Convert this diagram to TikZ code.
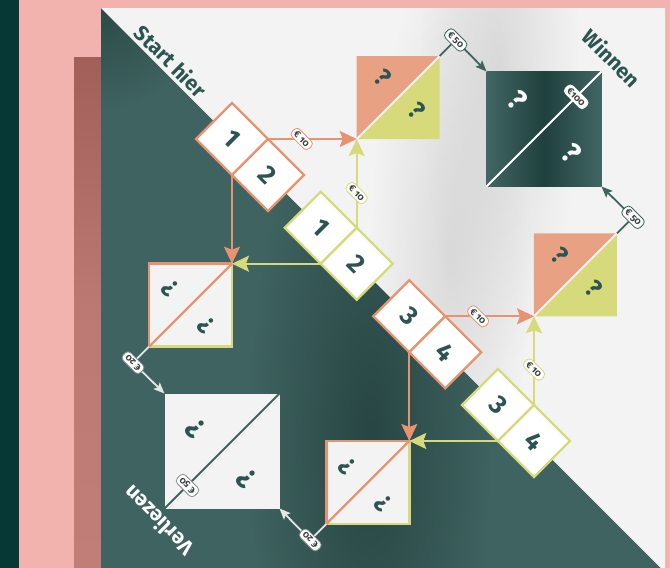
\documentclass[tikz,border=0pt]{standalone}
\usepackage{fontspec}
\setmainfont{Fira Sans}
\newfontfamily\lblfont[Numbers=OldStyle]{Fira Sans}
\usetikzlibrary{calc,arrows.meta,fadings}
\definecolor{stripdark}{HTML}{063836}
\definecolor{pinkbg}{HTML}{F2B2AD}
\definecolor{pinkdark}{HTML}{C17E79}
\definecolor{pinkshade}{HTML}{A25E59}
\definecolor{paperlight}{HTML}{F3F3F3}
\definecolor{paperdark}{HTML}{3F6360}
\definecolor{korange}{HTML}{E9A183}
\definecolor{korangeline}{HTML}{E8936F}
\definecolor{kyellow}{HTML}{D7DA7B}
\definecolor{txtdark}{HTML}{2C5451}
\definecolor{winmid}{HTML}{1E413E}
\definecolor{winedge}{HTML}{426663}
\definecolor{lbltext}{HTML}{3A3F3F}
\definecolor{lblgray}{HTML}{8A8F8F}
\definecolor{arrwhite}{HTML}{E4E6E6}
\definecolor{foldshade}{HTML}{142E2C}
\definecolor{glossgray}{HTML}{BDBDBD}
\tikzfading[name=softspot, inner color=transparent!0, outer color=transparent!100]
\tikzset{
  digit/.style={draw, fill=white, minimum size=50.9pt, inner sep=0pt, outer sep=0pt,
    rotate=-45, line width=2.3pt, text=txtdark, font=\bfseries\fontsize{26}{26}\selectfont},
  odig/.style={digit, draw=korangeline},
  ydig/.style={digit, draw=kyellow},
  split/.style={minimum size=83pt, inner sep=0pt, outer sep=0pt},
  bigsq/.style={minimum size=115pt, inner sep=0pt, outer sep=0pt},
  lbl/.style={draw, fill=white, rounded corners=4pt, line width=0.8pt,
    inner xsep=3pt, inner ysep=2pt, text=lbltext,
    font=\lblfont\bfseries\fontsize{9.5}{10}\selectfont},
  qm/.style={text=txtdark, font=\bfseries\fontsize{25}{25}\selectfont},
  bigqm/.style={font=\bfseries\fontsize{29}{29}\selectfont},
  title/.style={text=txtdark, font=\bfseries\fontsize{21}{21}\selectfont},
  oarr/.style={draw=korangeline, line width=2pt, -{Stealth[length=17pt,width=16pt,inset=3pt]}},
  yarr/.style={draw=kyellow, line width=2pt, -{Stealth[length=17pt,width=16pt,inset=3pt]}},
  darr/.style={draw=paperdark, line width=1.8pt, -{Stealth[length=11pt,width=9pt,inset=2pt]}},
  warr/.style={draw=arrwhite, line width=1.8pt, -{Stealth[length=11pt,width=9pt,inset=2pt]}},
  spot/.style={path fading=softspot},
}
\begin{document}
\begin{tikzpicture}[x=1pt,y=-1pt]
\useasboundingbox (0,0) rectangle (670,568);
% background
\fill[pinkbg] (0,0) rectangle (670,568);
\fill[stripdark] (0,0) rectangle (19,568);
\shade[top color=pinkshade, bottom color=pinkdark, middle color=pinkdark!85!pinkshade] (74,57) rectangle (101,568);
% poster
\fill[paperdark] (101,8) -- (101,568) -- (661,568) -- cycle;
\fill[paperlight] (101,8) -- (665,8) -- (665,568) -- (661,568) -- cycle;
% soft fold shading on the dark half
\begin{scope}
  \clip (101,8) -- (101,568) -- (661,568) -- cycle;
  \fill[foldshade, opacity=0.55, spot] (250,60) rectangle (490,820);
  \fill[foldshade, opacity=0.45, spot] (1,-92) rectangle (201,108);
\end{scope}
% gloss on the light half
\begin{scope}
  \clip (101,8) -- (665,8) -- (665,568) -- (661,568) -- cycle;
  \fill[glossgray, opacity=0.45, spot] (420,-240) rectangle (580,360);
  \fill[glossgray, opacity=0.45, spot] (370,-40) rectangle (530,560);
\end{scope}

% diamond pairs
\node[odig] (O1) at (232,139) {1};
\node[odig] (O2) at (268,175) {2};
\node[ydig] (Y1) at (320.7,227.7) {1};
\node[ydig] (Y2) at (356.7,263.7) {2};
\node[odig] (O3) at (409.3,316.3) {3};
\node[odig] (O4) at (445.3,352.3) {4};
\node[ydig] (Y3) at (498,405) {3};
\node[ydig] (Y4) at (534,441) {4};

% squares
\node[split, anchor=south west] (A) at (O1.north east -| Y1.north east) {};
\node[split, anchor=north east] (B) at (O1.south east |- Y1.south east) {};
\node[split, anchor=south west] (C) at (O3.north east -| Y3.north east) {};
\node[split, anchor=north east] (D) at (O3.south east |- Y3.south east) {};
\node[bigsq] (W) at (544,129) {};
\node[bigsq] (V) at (222,451) {};

% winning square
\shade[left color=winedge, right color=winedge, middle color=winmid] (W.south west) rectangle (W.north east);
\draw[white, line width=2pt] (W.south west) -- (W.north east);
% losing square
\fill[paperlight] (V.south west) rectangle (V.north east);
\draw[paperdark, line width=2pt] (V.south west) -- (V.north east);

% split orange / yellow squares
\foreach \s in {A,C}{
  \fill[korange] (\s.north west) -- (\s.north east) -- (\s.south west) -- cycle;
  \fill[kyellow] (\s.north east) -- (\s.south east) -- (\s.south west) -- cycle;
  \draw[paperlight, line width=2pt] (\s.south west) -- (\s.north east);
}
% white split squares
\foreach \s in {B,D}{
  \fill[paperlight] (\s.south west) rectangle (\s.north east);
  \draw[kyellow, line width=2.5pt, line cap=rect] (\s.north east) -- (\s.south east) -- (\s.south west);
  \draw[korangeline, line width=2.5pt, line cap=rect] (\s.south west) -- (\s.north west) -- (\s.north east);
  \draw[korangeline, line width=2.3pt] (\s.south west) -- (\s.north east);
}

% question marks
\foreach \s in {A,C}{
  \node[qm, rotate=-45] (\s q1) at ($(\s.north west)+(26,22)$) {?};
  \node[qm, rotate=-45] (\s q2) at ($(\s.north west)+(60,55)$) {?};
}
\foreach \s in {B,D}{
  \node[qm, rotate=135] (\s q1) at ($(\s.north west)+(21,25)$) {?};
  \node[qm, rotate=135] (\s q2) at ($(\s.north west)+(57,62)$) {?};
}
\node[qm, bigqm, text=white, rotate=-45] (Wq1) at ($(W.north west)+(31,29)$) {?};
\node[qm, bigqm, text=white, rotate=-45] (Wq2) at ($(W.north west)+(85,82)$) {?};
\node[qm, bigqm, rotate=135] (Vq1) at ($(V.north west)+(31,35)$) {?};
\node[qm, bigqm, rotate=135] (Vq2) at ($(V.north west)+(82,85)$) {?};

% connectors from the pairs
\draw[oarr] (O1.north east) -- node[pos=0.38, lbl, draw=korangeline, rotate=-45] (l1) {€ 10} (A.south west);
\draw[oarr] (O1.south east) -- (B.north east);
\draw[yarr] (Y1.north east) -- node[pos=0.39, lbl, draw=kyellow, rotate=-45] (l2) {€ 10} (A.south west);
\draw[yarr] (Y1.south east) -- (B.north east);
\draw[oarr] (O3.north east) -- node[pos=0.37, lbl, draw=korangeline, rotate=-45] (l3) {€ 10} (C.south west);
\draw[oarr] (O3.south east) -- (D.north east);
\draw[yarr] (Y3.north east) -- node[pos=0.4, lbl, draw=kyellow, rotate=-45] (l4) {€ 10} (C.south west);
\draw[yarr] (Y3.south east) -- (D.north east);

% connectors to winning square
\coordinate (bA) at ($(A.north east)+(16,-16)$);
\coordinate (bC) at ($(C.north east)+(16,-16)$);
\draw[darr] (A.north east) -- (bA) -- (W.north west);
\draw[darr] (C.north east) -- (bC) -- (W.south east);
\node[lbl, draw=paperdark, rotate=-45] (l5) at (bA) {€ 50};
\node[lbl, draw=paperdark, rotate=-45] (l6) at (bC) {€ 50};
\node[lbl, draw=white, rotate=-45] (l7) at ($(W.south west)!0.78!(W.north east)$) {€100};

% connectors to losing square
\coordinate (bB) at ($(B.south west)+(-16,16)$);
\coordinate (bD) at ($(D.south west)+(-16,16)$);
\draw[warr] (B.south west) -- (bB) -- (V.north west);
\draw[warr] (D.south west) -- (bD) -- (V.south east);
\node[lbl, draw=lblgray, rotate=135] (l8) at (bB) {€ 20};
\node[lbl, draw=lblgray, rotate=135] (l9) at (bD) {€ 20};
\node[lbl, draw=lblgray, rotate=135] (l10) at ($(V.south west)!0.2!(V.north east)$) {€ 50};

% titles
\node[title, rotate=-45] (start) at (171,61) {Start hier};
\node[title, rotate=-45] (win) at (612,58) {Winnen};
\node[title, text=white, rotate=135] (lose) at (158,521) {Verliezen};
\end{tikzpicture}
\end{document}
